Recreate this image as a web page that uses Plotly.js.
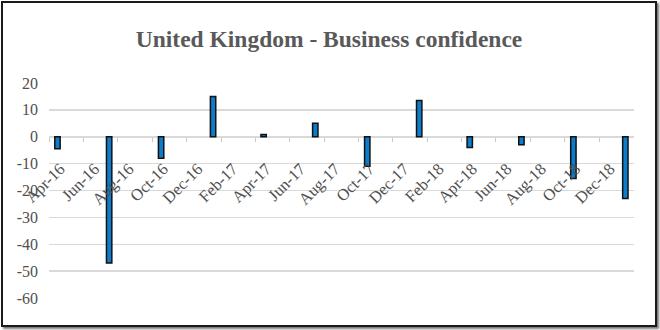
<!DOCTYPE html>
<html>
<head>
<meta charset="utf-8">
<script src="https://cdn.plot.ly/plotly-3.0.1.min.js"></script>
<style>
  html, body { margin: 0; padding: 0; background: #ffffff; }
  #frame {
    position: absolute; left: 1px; top: 1px;
    width: 652px; height: 322px;
    border: 2px solid #1a1a1a;
    box-shadow: 2px 2px 2px #777;
    background: #fff;
  }
  #chart { width: 652px; height: 322px; }
</style>
</head>
<body>
<div id="frame"><div id="chart"></div></div>
<script>
// Data (quarterly business confidence readings)
const months = ["2016-04", "2016-07", "2016-10", "2017-01", "2017-04", "2017-07",
                "2017-10", "2018-01", "2018-04", "2018-07", "2018-10", "2019-01"];
const values = [-4.5, -47, -8, 15, 0.8, 5, -11, 13.5, -4, -3, -15.5, -23];
const yTicks = [20, 10, 0, -10, -20, -30, -40, -50, -60];
const chartTitle = "United Kingdom - Business confidence";

const DAY = 86400000;
const serif = "Liberation Serif, Georgia, serif";

const trace = {
  type: "bar",
  x: months,
  y: values,
  xperiod: "M1",
  xperiodalignment: "middle",
  width: months.map(() => 9.5 * DAY),
  marker: { color: "#0b7dcc", line: { color: "#111111", width: 1.5 } },
  hoverinfo: "x+y"
};

const xRange = ["2016-04-01", "2019-01-31 20:00"];

const layout = {
  width: 652, height: 322,
  margin: { l: 46, r: 21, t: 80, b: 27 },
  paper_bgcolor: "#ffffff",
  plot_bgcolor: "#ffffff",
  showlegend: false,
  bargap: 0,
  title: {
    text: "<b>" + chartTitle + "</b>",
    font: { family: serif, size: 23.5, color: "#595959" },
    x: 0.5, xanchor: "center",
    yref: "container", y: 0.89, yanchor: "middle"
  },
  xaxis: {
    type: "date",
    range: xRange,
    tick0: "2016-04-01",
    dtick: "M2",
    tickformat: "%b-%y",
    tickangle: -45,
    anchor: "free",
    position: 0.75,
    showgrid: false,
    showline: false,
    zeroline: false,
    ticks: "outside",
    ticklen: 4,
    tickcolor: "#c8c8c8",
    tickwidth: 1,
    ticklabelshift: 11,
    ticklabelstandoff: 11,
    tickfont: { family: serif, size: 16.5, color: "#505050" },
    automargin: false,
    fixedrange: true
  },
  xaxis2: {
    type: "date",
    matches: "x",
    overlaying: "x",
    range: xRange,
    tick0: "2016-04-01",
    dtick: "M2",
    anchor: "free",
    position: 0.75,
    showgrid: false,
    showline: false,
    zeroline: false,
    ticks: "inside",
    ticklen: 4,
    tickcolor: "#c8c8c8",
    tickwidth: 1,
    showticklabels: false,
    automargin: false,
    fixedrange: true
  },
  yaxis: {
    range: [-60, 20],
    tickvals: yTicks,
    ticktext: yTicks.map(String),
    showgrid: true,
    gridcolor: "#d9d9d9",
    gridwidth: 1.5,
    zeroline: true,
    zerolinecolor: "#d9d9d9",
    zerolinewidth: 1.5,
    showline: false,
    ticks: "",
    ticklabelstandoff: 10,
    tickfont: { family: serif, size: 16, color: "#505050" },
    automargin: false,
    fixedrange: true
  }
};

Plotly.newPlot("chart", [trace], layout, { displayModeBar: false, staticPlot: true });
</script>
</body>
</html>
